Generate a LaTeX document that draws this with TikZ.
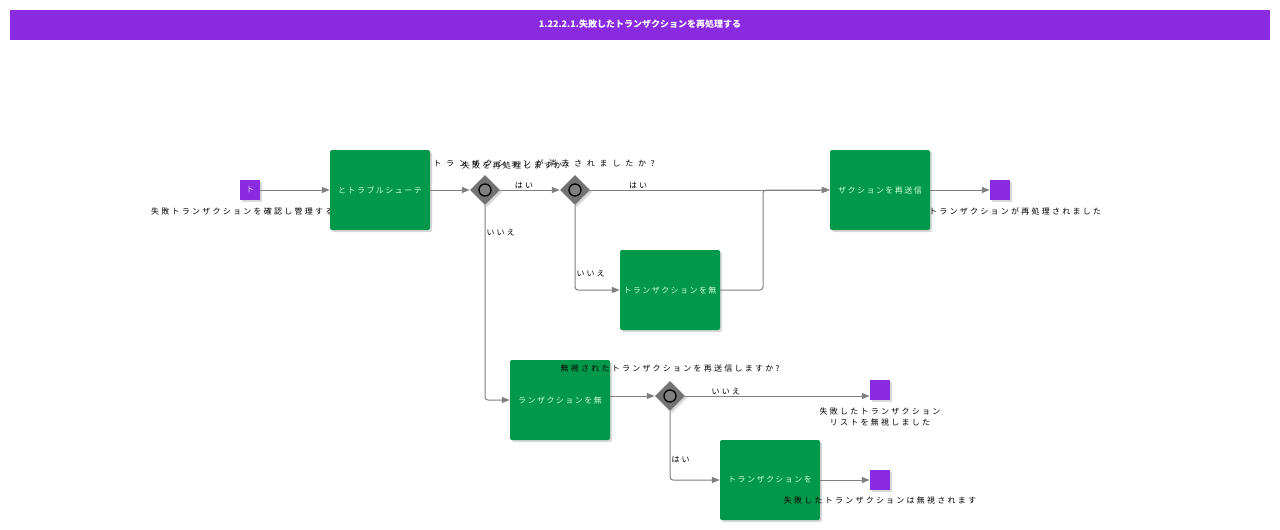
\documentclass[tikz,border=0pt]{standalone}
\usepackage{fontspec}
\setmainfont{Noto Sans CJK JP}[LetterSpace=28]
\newfontfamily\titlefont{Noto Sans CJK JP}
\usetikzlibrary{shapes.geometric,arrows.meta,shadows}
\definecolor{pur}{HTML}{8A2BE2}
\definecolor{grn}{HTML}{00984A}
\definecolor{ln}{HTML}{808080}
\begin{document}
\begin{tikzpicture}[x=1pt,y=-1pt,font=\fontsize{8}{11}\selectfont,
 task/.style={fill=grn,rounded corners=2pt,minimum width=100pt,minimum height=80pt,inner sep=0pt,text width=98pt,align=center,draw=none,text=white!85!green,font=\fontsize{8}{11}\selectfont\addfontfeature{LetterSpace=18},drop shadow={shadow xshift=2pt,shadow yshift=-2pt,opacity=0.3}},
 ev/.style={fill=pur,minimum size=20pt,inner sep=0,drop shadow={shadow xshift=2pt,shadow yshift=-2pt,opacity=0.3},text=white!80!pur},
 gw/.style={diamond,fill=gray!90!black,minimum size=30pt,inner sep=0,drop shadow={shadow xshift=2pt,shadow yshift=-2pt,opacity=0.3}},
 ar/.style={draw=ln,line width=1pt,-{Triangle[length=8pt,width=6pt]},rounded corners=3pt},
 lb/.style={inner sep=1pt}]
\useasboundingbox (0,0) rectangle (1280,530);
\fill[pur] (10,10) rectangle (1270,40);
\node[text=white,font=\titlefont\bfseries\fontsize{9}{11}\selectfont] (title) at (640,24) {1.22.2.1.失敗したトランザクションを再処理する};
\node[lb,anchor=west] (l0) at (150,211) {失敗トランザクションを確認し管理する};
% nodes
\node[ev] (s) at (250,190) {ト};
\node[task] (t1) at (380,190) {とトラブルシューテ};
\node[gw] (g1) at (485,190) {};
\node[gw] (g2) at (575,190) {};
\node[task] (t2) at (880,190) {ザクションを再送信};
\node[ev] (e1) at (1000,190) {};
\node[task] (t3) at (670,290) {トランザクションを無};
\node[task] (t4) at (560,400) {ランザクションを無};
\node[gw] (g3) at (670,396) {};
\node[ev] (e2) at (880,390) {};
\node[task] (t5) at (770,480) {トランザクションを};
\node[ev] (e3) at (880,480) {};
\foreach \g in {g1,g2,g3} \draw[black,line width=1.3pt,fill=gray] (\g) circle (6pt);
\node[lb,font=\fontsize{8}{11}\selectfont\addfontfeature{LetterSpace=60}] (lg1) at (544,163) {トランザクションが消去されましたか?};
\node[lb] (lg0) at (515,165) {失敗を再処理しますか?};
\node[lb] (lg3) at (670,368) {無視されたトランザクションを再送信しますか?};
\node[lb,anchor=west] (le1) at (928,211) {トランザクションが再処理されました};
\node[lb,align=center] (le2) at (880,417) {失敗したトランザクション\\リストを無視しました};
\node[lb] (le3) at (880,500) {失敗したトランザクションは無視されます};
% connectors
\draw[ar] (s) -- (t1);
\draw[ar] (t1) -- (g1);
\draw[ar] (g1) -- node[lb,above,pos=0.4] (a1) {はい} (g2);
\draw[ar] (g2) -- node[lb,above,pos=0.2] (a2) {はい} (t2);
\draw[ar] (g2) |- node[lb,right,pos=0.4] (a3) {いいえ} (t3.west);
\draw[ar] (t3.east) -| (763,190) -- (t2.west);
\draw[ar] (g1) |- node[lb,right,pos=0.07] (a4) {いいえ} (t4.west);
\draw[ar] (t4.east|-g3) -- (g3);
\draw[ar] (g3) -- node[lb,above,pos=0.22] (a5) {いいえ} (e2.west|-g3);
\draw[ar] (g3) |- node[lb,right,pos=0.35] (a6) {はい} (t5.west);
\draw[ar] (t5) -- (e3);
\draw[ar] (t2) -- (e1);
\end{tikzpicture}
\end{document}
